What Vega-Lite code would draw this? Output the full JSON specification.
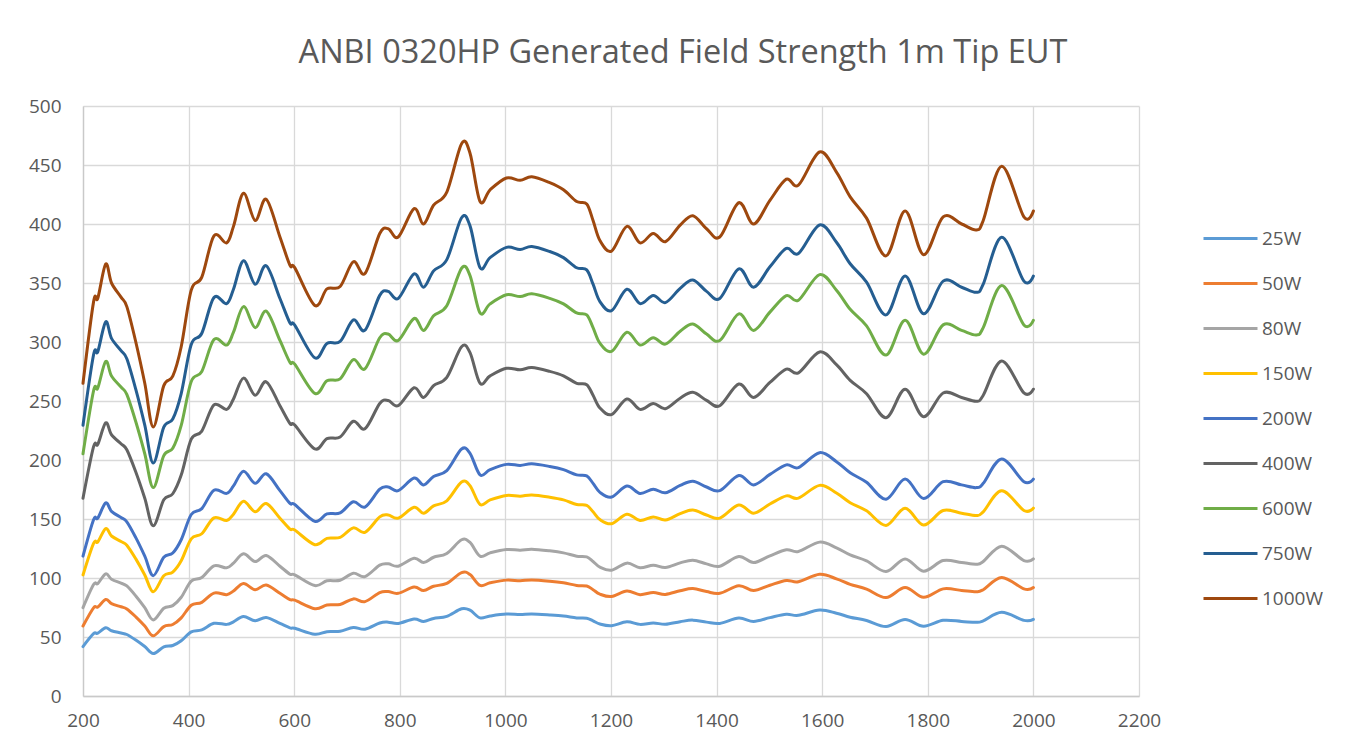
{
  "$schema": "https://vega.github.io/schema/vega-lite/v6.json",
  "width": 1056,
  "height": 590,
  "autosize": {"type": "none"},
  "padding": {"left": 83, "top": 106, "right": 225, "bottom": 58},
  "background": "white",
  "title": {"text": "ANBI 0320HP Generated Field Strength 1m Tip EUT", "font": "Open Sans", "fontSize": 32.5, "fontWeight": "normal", "color": "#595959", "anchor": "middle", "dx": 72, "offset": 28},
  "data": {"values": [
    {"f":200,"25W":41.9,"50W":59.3,"80W":74.9,"150W":102.6,"200W":118.5,"400W":167.6,"600W":205.3,"750W":229.5,"1000W":265},
    {"f":220,"25W":52.8,"50W":74.7,"80W":94.5,"150W":129.4,"200W":149.4,"400W":211.3,"600W":258.7,"750W":289.2,"1000W":334},
    {"f":228,"25W":53.2,"50W":75.4,"80W":95.3,"150W":130.5,"200W":150.7,"400W":213.2,"600W":261.0,"750W":291.8,"1000W":337},
    {"f":243,"25W":57.8,"50W":81.8,"80W":103.5,"150W":141.8,"200W":163.7,"400W":231.5,"600W":283.5,"750W":317.0,"1000W":366},
    {"f":254,"25W":55.3,"50W":78.3,"80W":99.0,"150W":135.6,"200W":156.5,"400W":221.4,"600W":271.1,"750W":303.1,"1000W":350},
    {"f":272,"25W":53.4,"50W":75.6,"80W":95.6,"150W":130.9,"200W":151.2,"400W":213.8,"600W":261.8,"750W":292.7,"1000W":338},
    {"f":283,"25W":52.1,"50W":73.8,"80W":93.3,"150W":127.8,"200W":147.6,"400W":208.7,"600W":255.6,"750W":285.8,"1000W":330},
    {"f":300,"25W":47.4,"50W":67.1,"80W":84.8,"150W":116.2,"200W":134.2,"400W":189.8,"600W":232.4,"750W":259.8,"1000W":300},
    {"f":317,"25W":41.9,"50W":59.3,"80W":74.9,"150W":102.6,"200W":118.5,"400W":167.6,"600W":205.3,"750W":229.5,"1000W":265},
    {"f":333,"25W":36.0,"50W":51.0,"80W":64.5,"150W":88.3,"200W":102.0,"400W":144.2,"600W":176.6,"750W":197.4,"1000W":228},
    {"f":353,"25W":41.6,"50W":58.8,"80W":74.4,"150W":101.9,"200W":117.6,"400W":166.3,"600W":203.7,"750W":227.8,"1000W":263},
    {"f":370,"25W":42.8,"50W":60.6,"80W":76.6,"150W":105.0,"200W":121.2,"400W":171.4,"600W":209.9,"750W":234.7,"1000W":271},
    {"f":386,"25W":46.8,"50W":66.2,"80W":83.7,"150W":114.6,"200W":132.4,"400W":187.2,"600W":229.3,"750W":256.3,"1000W":296},
    {"f":405,"25W":54.4,"50W":76.9,"80W":97.3,"150W":133.2,"200W":153.8,"400W":217.6,"600W":266.5,"750W":297.9,"1000W":344},
    {"f":425,"25W":56.1,"50W":79.4,"80W":100.4,"150W":137.5,"200W":158.8,"400W":224.5,"600W":275.0,"750W":307.4,"1000W":355},
    {"f":448,"25W":61.6,"50W":87.2,"80W":110.3,"150W":151.0,"200W":174.4,"400W":246.7,"600W":302.1,"750W":337.7,"1000W":390},
    {"f":472,"25W":60.7,"50W":85.9,"80W":108.6,"150W":148.7,"200W":171.7,"400W":242.9,"600W":297.4,"750W":332.5,"1000W":384},
    {"f":485,"25W":62.9,"50W":89.0,"80W":112.6,"150W":154.1,"200W":178.0,"400W":251.7,"600W":308.3,"750W":344.7,"1000W":398},
    {"f":504,"25W":67.3,"50W":95.3,"80W":120.5,"150W":165.0,"200W":190.5,"400W":269.4,"600W":330.0,"750W":368.9,"1000W":426},
    {"f":526,"25W":63.7,"50W":90.1,"80W":114.0,"150W":156.1,"200W":180.2,"400W":254.9,"600W":312.2,"750W":349.0,"1000W":403},
    {"f":547,"25W":66.5,"50W":94.1,"80W":119.1,"150W":163.1,"200W":188.3,"400W":266.3,"600W":326.1,"750W":364.6,"1000W":421},
    {"f":573,"25W":61.5,"50W":87.0,"80W":110.0,"150W":150.7,"200W":174.0,"400W":246.0,"600W":301.3,"750W":336.9,"1000W":389},
    {"f":592,"25W":57.7,"50W":81.6,"80W":103.2,"150W":141.4,"200W":163.2,"400W":230.9,"600W":282.7,"750W":316.1,"1000W":365},
    {"f":601,"25W":57.4,"50W":81.2,"80W":102.7,"150W":140.6,"200W":162.3,"400W":229.6,"600W":281.2,"750W":314.4,"1000W":363},
    {"f":639,"25W":52.3,"50W":74.0,"80W":93.6,"150W":128.2,"200W":148.0,"400W":209.4,"600W":256.4,"750W":286.6,"1000W":331},
    {"f":662,"25W":54.5,"50W":77.1,"80W":97.6,"150W":133.6,"200W":154.3,"400W":218.2,"600W":267.2,"750W":298.8,"1000W":345},
    {"f":687,"25W":54.8,"50W":77.6,"80W":98.1,"150W":134.4,"200W":155.2,"400W":219.5,"600W":268.8,"750W":300.5,"1000W":347},
    {"f":712,"25W":58.1,"50W":82.3,"80W":104.1,"150W":142.5,"200W":164.6,"400W":232.8,"600W":285.1,"750W":318.7,"1000W":368},
    {"f":734,"25W":56.6,"50W":80.0,"80W":101.2,"150W":138.7,"200W":160.1,"400W":226.4,"600W":277.3,"750W":310.0,"1000W":358},
    {"f":762,"25W":61.9,"50W":87.7,"80W":110.9,"150W":151.8,"200W":175.3,"400W":247.9,"600W":303.6,"750W":339.5,"1000W":392},
    {"f":778,"25W":62.6,"50W":88.5,"80W":112.0,"150W":153.4,"200W":177.1,"400W":250.5,"600W":306.7,"750W":342.9,"1000W":396},
    {"f":797,"25W":61.5,"50W":87.0,"80W":110.0,"150W":150.7,"200W":174.0,"400W":246.0,"600W":301.3,"750W":336.9,"1000W":389},
    {"f":827,"25W":65.3,"50W":92.3,"80W":116.8,"150W":160.0,"200W":184.7,"400W":261.2,"600W":319.9,"750W":357.7,"1000W":413},
    {"f":845,"25W":63.2,"50W":89.4,"80W":113.1,"150W":154.9,"200W":178.9,"400W":253.0,"600W":309.8,"750W":346.4,"1000W":400},
    {"f":864,"25W":65.7,"50W":93.0,"80W":117.6,"150W":161.1,"200W":186.0,"400W":263.1,"600W":322.2,"750W":360.3,"1000W":416},
    {"f":889,"25W":67.5,"50W":95.5,"80W":120.8,"150W":165.4,"200W":191.0,"400W":270.1,"600W":330.8,"750W":369.8,"1000W":427},
    {"f":917,"25W":73.9,"50W":104.6,"80W":132.4,"150W":181.3,"200W":209.3,"400W":296.0,"600W":362.5,"750W":405.3,"1000W":468},
    {"f":933,"25W":72.7,"50W":102.9,"80W":130.1,"150W":178.2,"200W":205.7,"400W":291.0,"600W":356.3,"750W":398.4,"1000W":460},
    {"f":952,"25W":66.2,"50W":93.7,"80W":118.5,"150W":162.3,"200W":187.4,"400W":265.0,"600W":324.6,"750W":362.9,"1000W":419},
    {"f":971,"25W":67.8,"50W":95.9,"80W":121.3,"150W":166.2,"200W":191.8,"400W":271.3,"600W":332.3,"750W":371.5,"1000W":429},
    {"f":1002,"25W":69.4,"50W":98.2,"80W":124.1,"150W":170.0,"200W":196.3,"400W":277.7,"600W":340.0,"750W":380.2,"1000W":439},
    {"f":1028,"25W":69.0,"50W":97.7,"80W":123.6,"150W":169.3,"200W":195.4,"400W":276.4,"600W":338.5,"750W":378.4,"1000W":437},
    {"f":1050,"25W":69.5,"50W":98.4,"80W":124.4,"150W":170.4,"200W":196.8,"400W":278.3,"600W":340.8,"750W":381.0,"1000W":440},
    {"f":1084,"25W":68.7,"50W":97.3,"80W":123.0,"150W":168.5,"200W":194.5,"400W":275.1,"600W":337.0,"750W":376.7,"1000W":435},
    {"f":1110,"25W":67.8,"50W":95.9,"80W":121.3,"150W":166.2,"200W":191.8,"400W":271.3,"600W":332.3,"750W":371.5,"1000W":429},
    {"f":1135,"25W":66.2,"50W":93.7,"80W":118.5,"150W":162.3,"200W":187.4,"400W":265.0,"600W":324.6,"750W":362.9,"1000W":419},
    {"f":1154,"25W":65.9,"50W":93.2,"80W":117.9,"150W":161.5,"200W":186.5,"400W":263.8,"600W":323.0,"750W":361.1,"1000W":417},
    {"f":1166,"25W":63.7,"50W":90.1,"80W":114.0,"150W":156.1,"200W":180.2,"400W":254.9,"600W":312.2,"750W":349.0,"1000W":403},
    {"f":1179,"25W":61.0,"50W":86.3,"80W":109.2,"150W":149.5,"200W":172.6,"400W":244.1,"600W":299.0,"750W":334.3,"1000W":386},
    {"f":1201,"25W":59.6,"50W":84.3,"80W":106.6,"150W":146.0,"200W":168.6,"400W":238.5,"600W":292.0,"750W":326.5,"1000W":377},
    {"f":1230,"25W":62.9,"50W":89.0,"80W":112.6,"150W":154.1,"200W":178.0,"400W":251.7,"600W":308.3,"750W":344.7,"1000W":398},
    {"f":1255,"25W":60.7,"50W":85.9,"80W":108.6,"150W":148.7,"200W":171.7,"400W":242.9,"600W":297.4,"750W":332.5,"1000W":384},
    {"f":1280,"25W":61.9,"50W":87.7,"80W":110.9,"150W":151.8,"200W":175.3,"400W":247.9,"600W":303.6,"750W":339.5,"1000W":392},
    {"f":1303,"25W":60.8,"50W":86.1,"80W":108.9,"150W":149.1,"200W":172.2,"400W":243.5,"600W":298.2,"750W":333.4,"1000W":385},
    {"f":1331,"25W":63.0,"50W":89.2,"80W":112.8,"150W":154.5,"200W":178.4,"400W":252.4,"600W":309.1,"750W":345.5,"1000W":399},
    {"f":1355,"25W":64.3,"50W":91.0,"80W":115.1,"150W":157.6,"200W":182.0,"400W":257.4,"600W":315.3,"750W":352.5,"1000W":407},
    {"f":1381,"25W":62.6,"50W":88.5,"80W":112.0,"150W":153.4,"200W":177.1,"400W":250.5,"600W":306.7,"750W":342.9,"1000W":396},
    {"f":1406,"25W":61.5,"50W":87.0,"80W":110.0,"150W":150.7,"200W":174.0,"400W":246.0,"600W":301.3,"750W":336.9,"1000W":389},
    {"f":1442,"25W":66.0,"50W":93.5,"80W":118.2,"150W":161.9,"200W":186.9,"400W":264.4,"600W":323.8,"750W":362.0,"1000W":418},
    {"f":1470,"25W":63.2,"50W":89.4,"80W":113.1,"150W":154.9,"200W":178.9,"400W":253.0,"600W":309.8,"750W":346.4,"1000W":400},
    {"f":1501,"25W":66.4,"50W":93.9,"80W":118.8,"150W":162.7,"200W":187.8,"400W":265.7,"600W":325.3,"750W":363.7,"1000W":420},
    {"f":1532,"25W":69.2,"50W":97.9,"80W":123.9,"150W":169.6,"200W":195.9,"400W":277.0,"600W":339.3,"750W":379.3,"1000W":438},
    {"f":1555,"25W":68.4,"50W":96.8,"80W":122.5,"150W":167.7,"200W":193.6,"400W":273.9,"600W":335.4,"750W":375.0,"1000W":433},
    {"f":1595,"25W":72.8,"50W":103.1,"80W":130.4,"150W":178.5,"200W":206.2,"400W":291.6,"600W":357.1,"750W":399.2,"1000W":461},
    {"f":1627,"25W":70.2,"50W":99.3,"80W":125.6,"150W":172.0,"200W":198.6,"400W":280.8,"600W":343.9,"750W":384.5,"1000W":444},
    {"f":1653,"25W":66.8,"50W":94.6,"80W":119.6,"150W":163.8,"200W":189.2,"400W":267.5,"600W":327.7,"750W":366.3,"1000W":423},
    {"f":1684,"25W":64.0,"50W":90.6,"80W":114.5,"150W":156.9,"200W":181.1,"400W":256.2,"600W":313.7,"750W":350.7,"1000W":405},
    {"f":1721,"25W":58.9,"50W":83.4,"80W":105.5,"150W":144.5,"200W":166.8,"400W":235.9,"600W":288.9,"750W":323.0,"1000W":373},
    {"f":1757,"25W":64.9,"50W":91.9,"80W":116.2,"150W":159.2,"200W":183.8,"400W":260.0,"600W":318.4,"750W":355.9,"1000W":411},
    {"f":1792,"25W":59.1,"50W":83.6,"80W":105.8,"150W":144.9,"200W":167.3,"400W":236.6,"600W":289.7,"750W":323.9,"1000W":374},
    {"f":1829,"25W":64.1,"50W":90.8,"80W":114.8,"150W":157.2,"200W":181.6,"400W":256.8,"600W":314.5,"750W":351.6,"1000W":406},
    {"f":1864,"25W":63.2,"50W":89.4,"80W":113.1,"150W":154.9,"200W":178.9,"400W":253.0,"600W":309.8,"750W":346.4,"1000W":400},
    {"f":1892,"25W":62.4,"50W":88.3,"80W":111.7,"150W":153.0,"200W":176.6,"400W":249.8,"600W":306.0,"750W":342.1,"1000W":395},
    {"f":1905,"25W":63.7,"50W":90.1,"80W":114.0,"150W":156.1,"200W":180.2,"400W":254.9,"600W":312.2,"750W":349.0,"1000W":403},
    {"f":1940,"25W":70.9,"50W":100.4,"80W":127.0,"150W":173.9,"200W":200.8,"400W":284.0,"600W":347.8,"750W":388.8,"1000W":449},
    {"f":1982,"25W":64.1,"50W":90.8,"80W":114.8,"150W":157.2,"200W":181.6,"400W":256.8,"600W":314.5,"750W":351.6,"1000W":406},
    {"f":2000,"25W":64.9,"50W":91.9,"80W":116.2,"150W":159.2,"200W":183.8,"400W":260.0,"600W":318.4,"750W":355.9,"1000W":411}
  ]},
  "transform": [
    {"fold": ["25W","50W","80W","150W","200W","400W","600W","750W","1000W"], "as": ["series","value"]}
  ],
  "mark": {"type": "line", "interpolate": "cardinal", "strokeWidth": 3, "strokeCap": "round", "strokeJoin": "round"},
  "encoding": {
    "x": {"field": "f", "type": "quantitative", "scale": {"domain": [200, 2200], "nice": false, "zero": false},
      "axis": {"values": [200,400,600,800,1000,1200,1400,1600,1800,2000,2200], "format": "d", "labelFlush": false, "labelOverlap": false, "title": null, "labelPadding": 15}},
    "y": {"field": "value", "type": "quantitative", "scale": {"domain": [0, 500], "nice": false},
      "axis": {"values": [0,50,100,150,200,250,300,350,400,450,500], "format": "d", "labelFlush": false, "labelOverlap": false, "title": null, "labelPadding": 22}},
    "color": {"field": "series", "type": "nominal",
      "scale": {"domain": ["25W","50W","80W","150W","200W","400W","600W","750W","1000W"],
        "range": ["#5B9BD5","#ED7D31","#A5A5A5","#FFC000","#4472C4","#636363","#70AD47","#255E91","#9E480E"]},
      "legend": {"title": null, "orient": "none", "legendX": 1119, "legendY": 104, "symbolType": "stroke", "symbolSize": 2916, "symbolStrokeWidth": 3, "labelFontSize": 19, "labelFont": "Open Sans", "labelColor": "#595959", "padding": 0, "rowPadding": 6, "labelOffset": 3}}
  },
  "config": {
    "view": {"stroke": null},
    "axis": {"grid": true, "gridColor": "#d9d9d9", "gridWidth": 1.3, "domainColor": "#c9c9c9", "domainWidth": 1.3, "ticks": false, "labelFont": "Open Sans", "labelFontSize": 19, "labelColor": "#595959"}
  }
}
